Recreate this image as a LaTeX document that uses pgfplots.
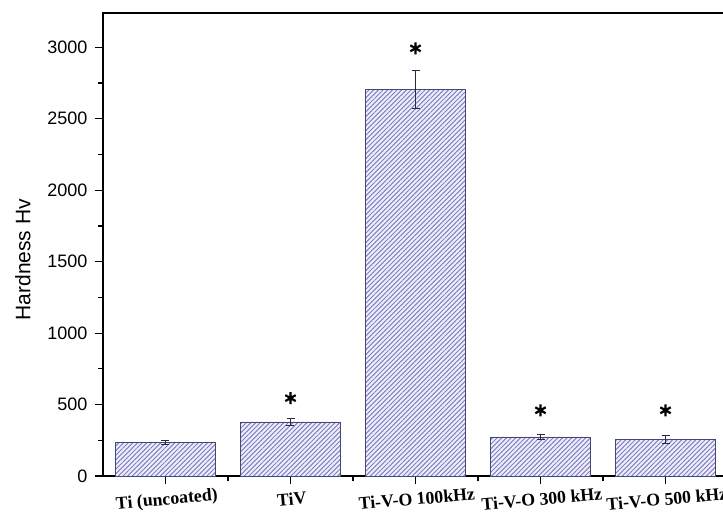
\documentclass[border=0pt]{standalone}
\usepackage{fontspec}
\setmainfont{Liberation Serif}
\newfontfamily\arial{Liberation Sans}
\usepackage{pgfplots}
\pgfplotsset{compat=1.18}
\usetikzlibrary{patterns.meta}
\definecolor{barbg}{RGB}{238,238,250}
\definecolor{barline}{RGB}{128,128,198}
\definecolor{bardraw}{RGB}{70,70,110}
\definecolor{errc}{RGB}{40,40,70}
\begin{document}
\begin{tikzpicture}
\begin{axis}[
  scale only axis, width=625pt, height=463pt,
  xmin=0.5, xmax=5.5, ymin=0, ymax=3240,
  axis line style={line width=1.4pt},
  xtick={1,2,3,4,5},
  xticklabels={Ti (uncoated),TiV,Ti-V-O 100kHz,Ti-V-O 300 kHz,Ti-V-O 500 kHz},
  minor xtick={1.5,2.5,3.5,4.5},
  ytick={0,500,1000,1500,2000,2500,3000},
  minor ytick={250,750,1250,1750,2250,2750,3250},
  tick align=outside, tick pos=left,
  major tick length=8pt, minor tick length=5pt,
  every tick/.style={black, line width=1.2pt},
  x tick label style={font=\bfseries\fontsize{17.8}{18}\selectfont, rotate=5, anchor=north, yshift=-5pt},
  y tick label style={font=\arial\fontsize{18}{18}\selectfont, xshift=-4pt},
  /pgf/number format/assume math mode=true,
  /pgf/number format/1000 sep={},
  ylabel={Hardness Hv},
  ylabel style={font=\arial\fontsize{21}{22}\selectfont, at={(axis description cs:-0.128,0.467)}, anchor=center},
]
\addplot[ybar, bar width=0.8, draw=bardraw, line width=0.8pt, fill=barbg,
  postaction={pattern={Lines[angle=45,distance=3.3pt,line width=1pt]}, pattern color=barline},
  error bars/.cd, y dir=both, y explicit,
  error bar style={errc, line width=0.9pt},
  error mark options={errc, rotate=90, mark size=4pt, line width=0.9pt}]
coordinates {
  (1,236) +- (0,12)
  (2,378) +- (0,26)
  (3,2705) +- (0,135)
  (4,273) +- (0,16)
  (5,256) +- (0,30)
};
\addplot[only marks, mark=asterisk, mark size=6pt, line width=2.2pt, black]
coordinates {(2,545) (3,2993) (4,460) (5,460)};
\end{axis}
\pgfresetboundingbox
\path (-103pt,-39pt) rectangle (620pt,476pt);
\end{tikzpicture}
\end{document}
